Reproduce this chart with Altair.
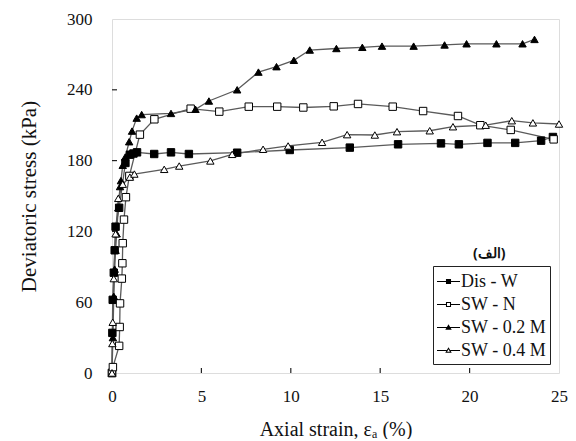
import altair as alt
import pandas as pd

series_names = ["Dis - W", "SW - N", "SW - 0.2 M", "SW - 0.4 M"]

dis_w_x = [0, 0.02, 0.04, 0.1, 0.15, 0.2, 0.4, 0.75, 1.0, 1.2, 1.4, 2.36, 3.3, 4.3, 7.0, 9.94, 13.3, 16.0, 18.4, 19.4, 21.0, 22.55, 24.0, 24.66]
dis_w_y = [0, 34, 62, 85, 104, 124, 140, 178, 185, 186, 187, 185.6, 187, 185.6, 186.7, 189, 191, 193.8, 194.6, 193.8, 195, 195, 196.9, 200]

sw_n_x = [0, 0.05, 0.4, 0.43, 0.45, 0.55, 0.58, 0.6, 0.67, 0.78, 0.97, 1.56, 2.37, 4.4, 6.0, 7.65, 9.24, 10.7, 12.4, 13.76, 15.7, 17.4, 19.35, 20.6, 22.3, 24.7]
sw_n_y = [0, 5, 23, 39, 59, 80, 93, 110, 130, 149, 167, 202, 215, 224, 221.5, 225.7, 225.7, 225, 226, 228, 225.7, 222, 217.8, 210, 206, 198]

sw_02_x = [0, 0.05, 0.1, 0.15, 0.2, 0.26, 0.35, 0.45, 0.5, 0.6, 0.74, 0.96, 1.12, 1.38, 1.66, 3.3, 4.67, 5.42, 7.0, 8.19, 9.2, 10.17, 11.06, 12.55, 14.0, 15.1, 16.87, 18.6, 19.83, 21.5, 22.96, 23.63]
sw_02_y = [0, 30, 65, 88, 104, 118, 140, 158, 163, 176, 183, 196, 205, 216, 219, 220, 223.5, 230.5, 240, 255, 259.6, 265, 273.7, 275, 276, 277, 277, 278, 279, 279, 279, 282.7]

sw_04_x = [0, 0.02, 0.04, 0.1, 0.2, 0.35, 0.6, 1.0, 1.25, 2.92, 3.76, 5.5, 6.72, 8.45, 9.85, 11.75, 13.15, 14.7, 15.94, 17.77, 19.07, 20.9, 22.36, 23.54, 25.0]
sw_04_y = [0, 25, 43, 80, 118, 148, 160, 166, 168.6, 172.6, 175.4, 179.7, 185.3, 189.6, 192.4, 195.5, 202, 201.7, 204.5, 205.3, 208.7, 210, 213.8, 212, 211]

x_ticks = [0, 5, 10, 15, 20, 25]
y_ticks = [0, 60, 120, 180, 240, 300]
inner_x_ticks = [5, 10, 15, 20]
inner_y_ticks = [60, 120, 180, 240]

panel_label = "(الف)"
panel_label_x = [21.1]
panel_label_y = [101]

rows = []
for name, xs, ys in zip(series_names,
                        [dis_w_x, sw_n_x, sw_02_x, sw_04_x],
                        [dis_w_y, sw_n_y, sw_02_y, sw_04_y]):
    for i, (xv, yv) in enumerate(zip(xs, ys)):
        rows.append({"series": name, "x": xv, "y": yv, "idx": i})
df = pd.DataFrame(rows)

FONT = "Liberation Serif, Times New Roman, DejaVu Serif, serif"
W, H = 447, 354

xscale = alt.Scale(domain=[0, 25], nice=False, zero=False)
yscale = alt.Scale(domain=[0, 300], nice=False, zero=False)

xenc = alt.X("x:Q", scale=xscale,
             axis=alt.Axis(values=x_ticks, ticks=False, domain=False, grid=False,
                           labelFlush=False,
                           labelFont=FONT, labelFontSize=17, labelColor="#111",
                           labelPadding=15, title="Axial strain, εₐ (%)",
                           titleFont=FONT, titleFontSize=20, titleFontWeight="normal",
                           titleColor="#111", titlePadding=15))
yenc = alt.Y("y:Q", scale=yscale,
             axis=alt.Axis(values=y_ticks, ticks=False, domain=False, grid=False,
                           labelFlush=False,
                           labelFont=FONT, labelFontSize=17, labelColor="#111",
                           labelPadding=20, title="Deviatoric stress (kPa)",
                           titleFont=FONT, titleFontSize=21, titleFontWeight="normal",
                           titleColor="#111", titlePadding=27))

base = alt.Chart(df)

lines = base.mark_line(color="#5a5a5a", strokeWidth=1.3).encode(
    x=xenc, y=yenc, detail="series:N", order="idx:Q")

shape_domain = series_names
point_shapes = ["square", "square", "triangle-up", "triangle-up"]
fills = ["black", "white", "black", "white"]

points = base.mark_point(stroke="black", strokeWidth=1, size=55, opacity=1, fillOpacity=1).encode(
    x="x:Q", y="y:Q",
    shape=alt.Shape("series:N", scale=alt.Scale(domain=shape_domain, range=point_shapes), legend=None),
    fill=alt.Fill("series:N", scale=alt.Scale(domain=shape_domain, range=fills), legend=None),
)

# legend glyphs: line segment + marker, built only from filled geometry
line_full = "M-1,-0.05H1V0.05H-1Z"
sq_line_split = "M-1,-0.05H-0.22V0.05H-1ZM0.22,-0.05H1V0.05H0.22Z"
tri_line_split = "M-1,-0.05H-0.16V0.05H-1ZM0.16,-0.05H1V0.05H0.16Z"
sq_outer = "M-0.22,-0.22H0.22V0.22H-0.22Z"
sq_inner_rev = "M-0.13,-0.13V0.13H0.13V-0.13Z"
tri_outer = "M0,-0.28L0.28,0.2H-0.28Z"
tri_inner_rev = "M0,-0.1L-0.123,0.11H0.123Z"
legend_paths = [
    line_full + sq_outer,
    sq_line_split + sq_outer + sq_inner_rev,
    line_full + tri_outer,
    tri_line_split + tri_outer + tri_inner_rev,
]

leg = alt.Legend(title=None, orient="none", legendX=321, legendY=247,
                 labelFont=FONT, labelFontSize=18, labelColor="#111",
                 symbolSize=529, symbolStrokeWidth=0, symbolFillColor="black",
                 symbolOpacity=1, rowPadding=2, padding=4, labelOffset=1,
                 strokeColor="#222", fillColor="white")

legend_layer = base.mark_point(filled=True, fill="black", strokeWidth=0, opacity=0).encode(
    x="x:Q", y="y:Q",
    shape=alt.Shape("series:N", scale=alt.Scale(domain=shape_domain, range=legend_paths), legend=leg),
)

xt_df = pd.DataFrame({"t": inner_x_ticks})
yt_df = pd.DataFrame({"t": inner_y_ticks})
xticks = alt.Chart(xt_df).mark_rule(color="#222", strokeWidth=1.2).encode(
    x="t:Q", y=alt.value(H), y2=alt.value(H - 5))
yticks = alt.Chart(yt_df).mark_rule(color="#222", strokeWidth=1.2).encode(
    y="t:Q", x=alt.value(0), x2=alt.value(5))

label_df = pd.DataFrame({"x": panel_label_x, "y": panel_label_y, "t": [panel_label]})
label = alt.Chart(label_df).mark_text(font="Noto Sans", fontSize=14, fontWeight="bold", color="#111").encode(
    x="x:Q", y="y:Q", text="t:N")

chart = alt.layer(lines, xticks, yticks, points, legend_layer, label).resolve_scale(
    shape="independent", fill="independent"
).properties(
    width=W, height=H,
    autosize=alt.AutoSizeParams(type="none"),
    padding={"left": 104, "top": 11, "right": 9, "bottom": 66},
).configure_view(stroke="#222", strokeWidth=1.8).configure(background="white")

chart.save("out.html", embed_options={"renderer": "svg", "actions": False})
